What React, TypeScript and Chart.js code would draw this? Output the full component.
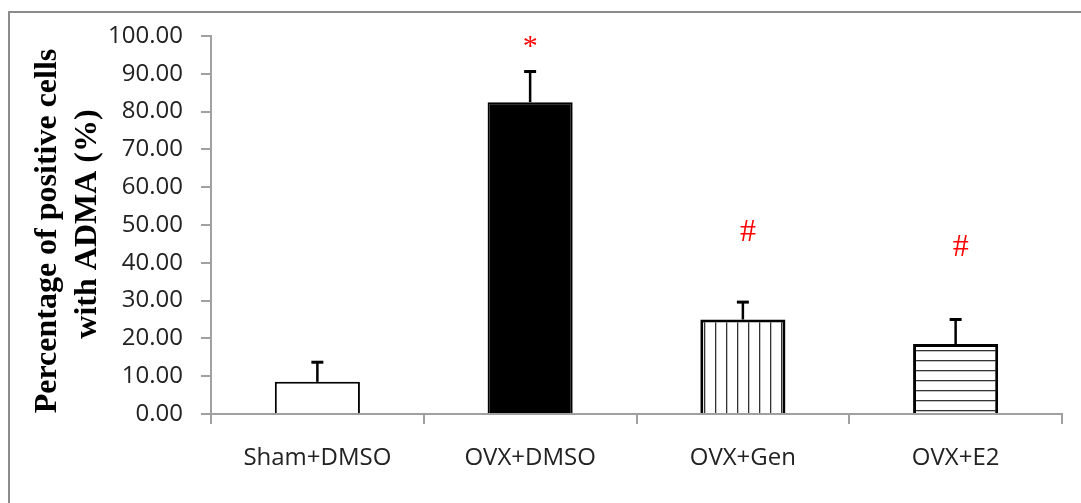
import React, { useEffect, useRef } from 'react';
import { Chart, registerables } from 'chart.js';

Chart.register(...registerables);

const categories = ['Sham+DMSO', 'OVX+DMSO', 'OVX+Gen', 'OVX+E2'];
const means = [8.5, 82.5, 25.0, 18.5];
const errors = [5.2, 8.1, 4.6, 6.5];
const markLabels = ['', '*', '#', '#'];
const markValues = [0, 99, 48, 44];
const yMin = 0;
const yMax = 100;
const yStep = 10;
const titleLines = ['Percentage of positive cells', 'with ADMA (%)'];

function makePattern(kind: 'v' | 'h'): CanvasPattern | string {
  const c = document.createElement('canvas');
  const s = kind === 'v' ? 11 : 10;
  c.width = s;
  c.height = s;
  const g = c.getContext('2d');
  if (!g) return '#fff';
  g.fillStyle = '#ffffff';
  g.fillRect(0, 0, s, s);
  g.fillStyle = '#333333';
  if (kind === 'v') g.fillRect(0, 0, 1.3, s);
  else g.fillRect(0, 0, s, 1.3);
  return g.createPattern(c, 'repeat') || '#fff';
}

const decorPlugin = {
  id: 'decor',
  beforeDraw(chart: any) {
    const ctx = chart.ctx;
    ctx.save();
    ctx.fillStyle = '#ffffff';
    ctx.fillRect(0, 0, chart.width, chart.height);
    ctx.strokeStyle = '#8c8c8c';
    ctx.lineWidth = 2;
    ctx.strokeRect(9, 12, chart.width + 40, chart.height + 40);
    ctx.restore();
  },
  afterDraw(chart: any) {
    const ctx = chart.ctx;
    const yScale = chart.scales.y;
    const meta = chart.getDatasetMeta(0);
    ctx.save();
    // error bars
    meta.data.forEach((bar: any, i: number) => {
      const x = bar.x;
      const yTop = yScale.getPixelForValue(means[i] + errors[i]);
      const yBase = bar.y;
      ctx.strokeStyle = '#000';
      ctx.lineWidth = 2.5;
      ctx.beginPath();
      ctx.moveTo(x, yBase);
      ctx.lineTo(x, yTop);
      ctx.stroke();
      ctx.lineWidth = 3;
      ctx.beginPath();
      ctx.moveTo(x - 6, yTop);
      ctx.lineTo(x + 6, yTop);
      ctx.stroke();
    });
    // significance marks
    ctx.fillStyle = '#ff0000';
    ctx.textAlign = 'center';
    ctx.textBaseline = 'middle';
    meta.data.forEach((bar: any, i: number) => {
      if (!markLabels[i]) return;
      const isStar = markLabels[i] === '*';
      ctx.font = isStar ? '30px "Liberation Serif"' : '32px "Liberation Serif"';
      const y = yScale.getPixelForValue(markValues[i]);
      ctx.fillText(markLabels[i], bar.x + (isStar ? 0 : 5), y + (isStar ? 7 : 0));
    });
    // y title
    ctx.fillStyle = '#000';
    ctx.font = 'bold 32px "Liberation Serif"';
    ctx.textBaseline = 'middle';
    ctx.save();
    ctx.translate(48, 231);
    ctx.rotate(-Math.PI / 2);
    ctx.fillText(titleLines[0], 0, 0);
    ctx.restore();
    ctx.save();
    ctx.translate(88, 224);
    ctx.rotate(-Math.PI / 2);
    ctx.fillText(titleLines[1], 0, 0);
    ctx.restore();
    ctx.restore();
  },
};

export default function App() {
  const ref = useRef<HTMLCanvasElement | null>(null);
  useEffect(() => {
    if (!ref.current) return;
    const vPat = makePattern('v');
    const hPat = makePattern('h');
    const chart = new Chart(ref.current, {
      type: 'bar',
      data: {
        labels: categories,
        datasets: [
          {
            data: means,
            backgroundColor: ['#ffffff', '#000000', vPat, hPat] as any,
            borderColor: '#000000',
            borderWidth: [2, 2, 3, 3] as any,
            barPercentage: 0.4,
            categoryPercentage: 1,
          },
        ],
      },
      options: {
        animation: false,
        responsive: false,
        devicePixelRatio: 1,
        layout: { padding: { top: 36, right: 19, left: 0, bottom: 0 } },
        plugins: { legend: { display: false }, tooltip: { enabled: false } },
        scales: {
          x: {
            grid: {
              offset: true,
              drawOnChartArea: false,
              drawTicks: true,
              tickLength: 10,
              color: '#a0a0a0',
              lineWidth: 2,
            },
            border: { color: '#a0a0a0', width: 2 },
            ticks: {
              color: '#222222',
              font: { family: '"Open Sans"', size: 24 },
              padding: 20,
              maxRotation: 0,
            },
            afterFit(scale: any) {
              scale.height = 89;
            },
          },
          y: {
            min: yMin,
            max: yMax,
            grid: {
              drawOnChartArea: false,
              drawTicks: true,
              tickLength: 10,
              color: '#a0a0a0',
              lineWidth: 2,
            },
            border: { color: '#a0a0a0', width: 2 },
            ticks: {
              stepSize: yStep,
              color: '#222222',
              font: { family: '"Open Sans"', size: 24 },
              padding: 18,
              callback: (v: any) => Number(v).toFixed(2),
            },
            afterFit(scale: any) {
              scale.width = 211;
            },
          },
        },
      },
      plugins: [decorPlugin],
    });
    return () => chart.destroy();
  }, []);
  return (
    <div style={{ position: 'fixed', left: 0, top: 0, width: 1081, height: 503 }}>
      <canvas ref={ref} width={1081} height={503} />
    </div>
  );
}
